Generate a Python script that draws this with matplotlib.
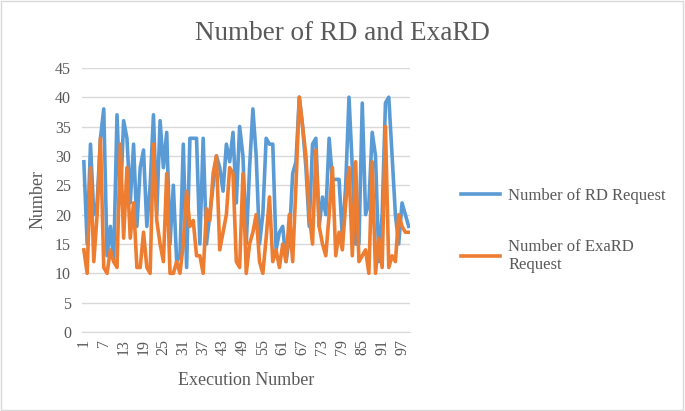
import matplotlib
matplotlib.use("Agg")
import matplotlib.pyplot as plt
import numpy as np

execution = list(range(1, 100))
rd_request = [29, 15, 32, 20, 22, 33, 38, 13, 18, 12, 37, 22, 36, 33, 22, 32, 18, 28, 31, 18,
              25, 37, 20, 36, 28, 34, 15, 25, 12, 13, 32, 11, 33, 33, 33, 15, 33, 15, 20, 25,
              30, 28, 24, 32, 29, 34, 22, 35, 30, 15, 28, 38, 30, 15, 20, 33, 32, 32, 14, 17,
              18, 12, 16, 27, 29, 40, 35, 28, 18, 32, 33, 18, 23, 20, 33, 26, 26, 26, 16, 25,
              40, 28, 15, 15, 39, 20, 22, 34, 30, 12, 20, 39, 40, 30, 20, 15, 22, 20, 18]
exard_request = [14, 10, 28, 12, 20, 33, 11, 10, 14, 12, 11, 32, 16, 28, 16, 22, 11, 11, 17, 11,
                 10, 32, 19, 15, 12, 27, 10, 10, 12, 10, 15, 24, 18, 19, 13, 13, 10, 21, 19, 27,
                 30, 14, 17, 20, 28, 27, 12, 11, 27, 10, 15, 17, 20, 12, 10, 16, 23, 12, 14, 11,
                 15, 12, 20, 12, 25, 40, 35, 30, 20, 15, 31, 18, 15, 13, 20, 28, 13, 17, 14, 22,
                 28, 13, 29, 12, 13, 14, 10, 29, 10, 16, 11, 35, 11, 13, 12, 20, 18, 17, 17]
xtick_labels = list(range(1, 100, 6))
yticks = list(range(0, 50, 5))

serif = ["Liberation Serif", "DejaVu Serif"]
plt.rcParams["font.family"] = serif

fig = plt.figure(figsize=(6.85, 4.11), dpi=100)
ax = fig.add_axes([0.12, 0.192, 0.479, 0.643])

ax.plot(execution, rd_request, color="#5B9BD5", lw=2.6, label="Number of RD Request", solid_joinstyle="round")
ax.plot(execution, exard_request, color="#ED7D31", lw=2.6, label="Number of ExaRD\nRequest", solid_joinstyle="round")

ax.set_xlim(0.5, 99.5)
ax.set_ylim(0, 45)
ax.set_yticks(yticks)
ax.set_xticks(xtick_labels)
ax.set_xticklabels([str(v) for v in xtick_labels], rotation=90)
ax.yaxis.grid(True, color="#D9D9D9", lw=1)
ax.set_axisbelow(True)
for s in ["top", "right", "left"]:
    ax.spines[s].set_visible(False)
ax.spines["bottom"].set_color("#D9D9D9")
ax.tick_params(axis="both", length=0, labelsize=11.5, colors="#595959", pad=5)
ax.tick_params(axis="y", pad=8)

ax.set_xlabel("Execution Number", fontsize=13, color="#595959", labelpad=12)
ax.set_ylabel("Number", fontsize=13, color="#595959", labelpad=6)
fig.text(0.5, 0.918, "Number of RD and ExaRD", fontsize=19.5, color="#595959",
         ha="center", va="center")

leg = ax.legend(loc="center left", bbox_to_anchor=(1.11, 0.385), frameon=False,
                fontsize=12, labelcolor="#595959", handlelength=2.3, handletextpad=0.5,
                labelspacing=2.1)

fig.patches.append(plt.Rectangle((0.002, 0.003), 0.995, 0.994, transform=fig.transFigure,
                                 fill=False, edgecolor="#D9D9D9", lw=1))

fig.savefig("out.png", dpi=100, facecolor="white")
